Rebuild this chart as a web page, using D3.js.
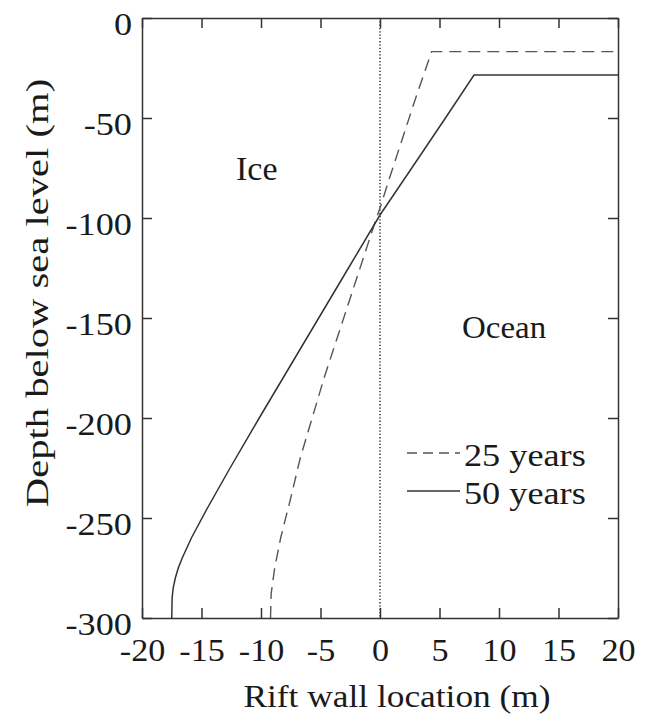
<!DOCTYPE html>
<html>
<head>
<meta charset="utf-8">
<script src="https://cdn.jsdelivr.net/npm/d3@7/dist/d3.min.js"></script>
<style>
  html, body { margin: 0; padding: 0; background: #fff; }
  svg { display: block; }
  svg text { font-family: "Liberation Serif", "Tinos", "Times New Roman", "DejaVu Serif", serif !important; fill: #1a1a1a; }
</style>
</head>
<body>
<svg id="chart" width="649" height="719"></svg>
<script>
// ---- data ----
const xTicks = [-20, -15, -10, -5, 0, 5, 10, 15, 20];
const yTicks = [0, -50, -100, -150, -200, -250, -300];

const depth25 = [-300, -288, -275, -260, -240, -220, -200, -180, -160, -140, -120, -100, -95, -80, -60, -40, -16.8, -16.8];
const wall25  = [-9.2, -9.15, -8.85, -8.35, -7.5, -6.7, -5.7, -4.7, -3.6, -2.5, -1.4, -0.3, 0, 0.8, 1.9, 3.0, 4.34, 20];

const depth50 = [-300, -290, -285, -280, -275, -270, -260, -245, -225, -200, -175, -150, -125, -98.5, -75, -50, -28.5, -28.5];
const wall50  = [-17.5, -17.47, -17.38, -17.2, -16.95, -16.62, -15.85, -14.5, -12.6, -10.15, -7.65, -5.15, -2.65, 0, 2.67, 5.5, 7.9, 20];

const seriesNames = ["25 years", "50 years"];
const regionLabels = ["Ice", "Ocean"];

// ---- layout ----
const FONT = '"Liberation Serif", "Tinos", "Times New Roman", "DejaVu Serif", serif';
const svg = d3.select("#chart");
const L = 142, R = 618, T = 18, B = 618;
const x = d3.scaleLinear().domain([-20, 20]).range([L, R]);
const y = d3.scaleLinear().domain([-300, 0]).range([B, T]);
const SX = 1.17;   // horizontal text stretch of the reference
const FS = 31;
const axisColor = "#333";

// zero line (dotted)
svg.append("line")
  .attr("x1", x(0)).attr("x2", x(0)).attr("y1", y(0)).attr("y2", y(-300))
  .attr("stroke", "#111").attr("stroke-width", 1.3).attr("stroke-dasharray", "1.3,2");

// curves
const line = d3.line().x(d => x(d[0])).y(d => y(d[1]));
const pts25 = wall25.map((w, i) => [w, depth25[i]]);
const pts50 = wall50.map((w, i) => [w, depth50[i]]);

svg.append("path").datum(pts25).attr("d", line)
  .attr("fill", "none").attr("stroke", "#555").attr("stroke-width", 1.4)
  .attr("stroke-dasharray", "12,7");
svg.append("path").datum(pts50).attr("d", line)
  .attr("fill", "none").attr("stroke", "#333").attr("stroke-width", 1.5);

// axes (box with inward ticks)
function styleAxis(g) {
  g.attr("font-family", FONT);
  g.select(".domain").attr("stroke", axisColor).attr("stroke-width", 1.5);
  g.selectAll(".tick line").attr("stroke", axisColor).attr("stroke-width", 1.5);
  g.selectAll("text").attr("font-family", FONT).attr("font-size", FS).attr("fill", "#1a1a1a");
}
const fmt = d => d < 0 ? "-" + Math.abs(d) : String(d);
const gx = svg.append("g").attr("transform", `translate(0,${B})`)
  .call(d3.axisBottom(x).tickValues(xTicks).tickSize(-10).tickSizeOuter(0).tickPadding(0).tickFormat(fmt));
styleAxis(gx);
gx.selectAll(".tick text").attr("y", 0).attr("dy", 0)
  .attr("transform", `translate(0,43) scale(1.1,1)`);

const gxt = svg.append("g").attr("transform", `translate(0,${T})`)
  .call(d3.axisTop(x).tickValues(xTicks).tickSize(-10).tickSizeOuter(0).tickFormat(""));
styleAxis(gxt);

const gy = svg.append("g").attr("transform", `translate(${L},0)`)
  .call(d3.axisLeft(y).tickValues(yTicks).tickSize(-10).tickSizeOuter(0).tickFormat(fmt));
styleAxis(gy);
gy.selectAll(".tick text").attr("x", 0).attr("dy", 0)
  .attr("transform", `translate(-10,16) scale(${SX},1)`);

const gyr = svg.append("g").attr("transform", `translate(${R},0)`)
  .call(d3.axisRight(y).tickValues(yTicks).tickSize(-10).tickSizeOuter(0).tickFormat(""));
styleAxis(gyr);

// axis titles
svg.append("text")
  .attr("transform", `translate(397,707) scale(1.14,1)`)
  .attr("text-anchor", "middle").attr("font-family", FONT).attr("font-size", FS)
  .text("Rift wall location (m)");
svg.append("text")
  .attr("transform", `translate(48,293) rotate(-90) scale(1.31,1)`)
  .attr("text-anchor", "middle").attr("font-family", FONT).attr("font-size", FS)
  .text("Depth below sea level (m)");

// region labels
svg.append("text").attr("transform", `translate(236,180)`)
  .attr("font-family", FONT).attr("font-size", 34).text(regionLabels[0]);
svg.append("text").attr("transform", `translate(462,338) scale(1.03,1)`)
  .attr("font-family", FONT).attr("font-size", 32).text(regionLabels[1]);

// legend
const legY = [453, 491];
svg.append("line").attr("x1", 407).attr("x2", 460).attr("y1", legY[0]).attr("y2", legY[0])
  .attr("stroke", "#555").attr("stroke-width", 1.4).attr("stroke-dasharray", "10,6");
svg.append("line").attr("x1", 407).attr("x2", 460).attr("y1", legY[1]).attr("y2", legY[1])
  .attr("stroke", "#333").attr("stroke-width", 1.5);
seriesNames.forEach((s, i) => {
  svg.append("text").attr("transform", `translate(464,${legY[i] + 13}) scale(${SX},1)`)
    .attr("font-family", FONT).attr("font-size", FS).text(s);
});
</script>
</body>
</html>
